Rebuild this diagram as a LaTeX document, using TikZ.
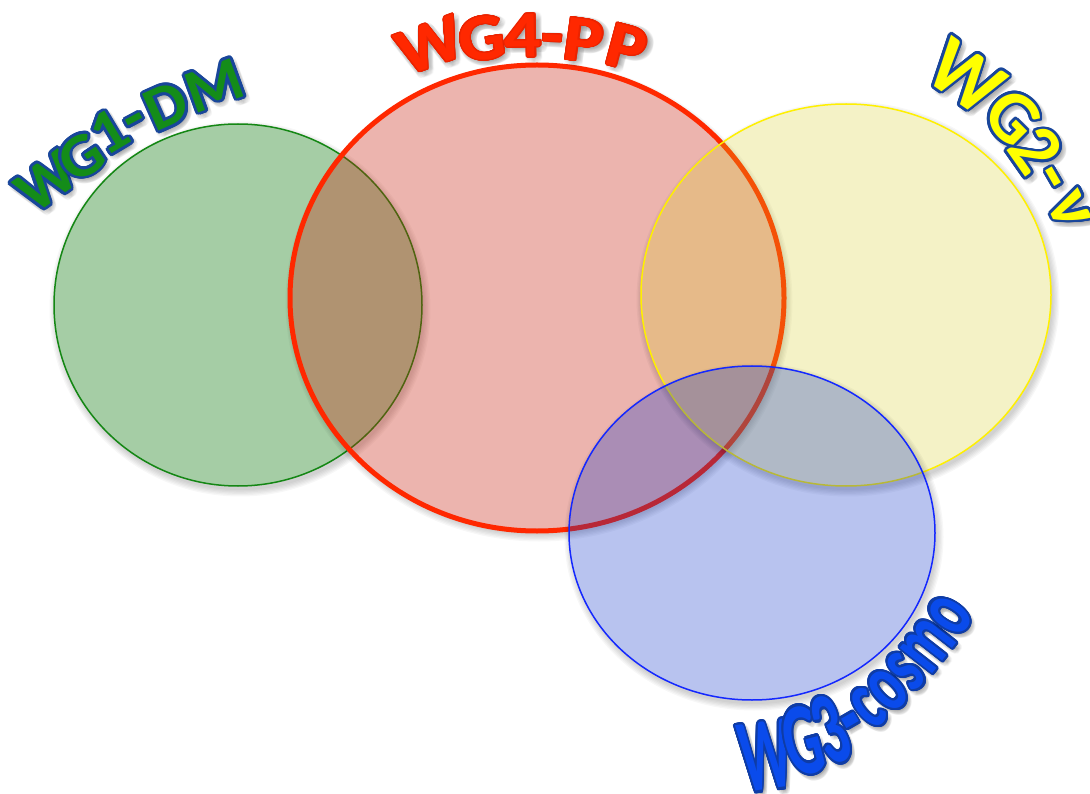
\documentclass[tikz,border=0pt]{standalone}
\usepackage{fontspec}
\setmainfont{Carlito}
\usepackage{contour}
\contournumber{24}
\contourlength{2.6pt}
\usetikzlibrary{calc}

% circle colours
\definecolor{gfill}{RGB}{30,130,30}
\definecolor{gline}{RGB}{20,135,20}
\definecolor{rfill}{RGB}{200,30,10}
\definecolor{rline}{RGB}{255,40,0}
\definecolor{yfill}{RGB}{215,205,30}
\definecolor{yline}{RGB}{255,240,0}
\definecolor{bfill}{RGB}{0,40,200}
\definecolor{bline}{RGB}{20,40,255}
% label colours
\definecolor{onetext}{RGB}{20,140,25}
\definecolor{navy}{RGB}{25,70,155}
\definecolor{fourtext}{RGB}{255,40,0}
\definecolor{fourline}{RGB}{235,35,0}
\definecolor{twotext}{RGB}{255,255,0}
\definecolor{threetext}{RGB}{10,75,235}
\definecolor{threeline}{RGB}{15,60,165}

\tikzset{
  glyph/.style={inner sep=0pt, outer sep=0pt, font=\bfseries\fontsize{62}{62}\selectfont},
  wgone/.style={glyph, text=onetext, xscale=1.05},
  wgfour/.style={glyph, text=fourtext, xscale=1.1, font=\bfseries\fontsize{66}{66}\selectfont},
  wgtwo/.style={glyph, text=twotext, font=\bfseries\fontsize{74}{74}\selectfont},
  wgtwobig/.style={wgtwo, font=\bfseries\fontsize{80}{80}\selectfont},
  wgthree/.style={glyph, text=threetext, xscale=0.56, font=\bfseries\fontsize{104}{104}\selectfont},
  wgthreelow/.style={glyph, text=threetext, xscale=0.66, font=\bfseries\fontsize{85}{85}\selectfont},
  setline/.style={line width=#1},
}

% one outlined, shadowed letter of a curved label
% #1 name, #2 x, #3 y, #4 angle, #5 style, #6 outline colour, #7 letter
\newcommand\wgchar[7]{%
  \node[rotate=#4, #5, text=black, opacity=0.025] (#1-sh) at ({#2+3},{#3+4})
    {\contourlength{4pt}\contour{black}{#7}};
  \node[rotate=#4, #5] (#1) at (#2,#3) {\contour{#6}{#7}};
}

% soft shadow ring outside an ellipse
\newcommand\softshadow[3]{%
  \begin{scope}[even odd rule]
    \clip (-20,-20) rectangle (1110,814) (#1) ellipse [x radius=#2, y radius=#3];
    \foreach \k in {0,...,5}
      \fill[black, opacity=0.03] ($(#1)+(2,4)$) ellipse [x radius={#2+\k*1.3}, y radius={#3+\k*1.3}];
  \end{scope}}

\begin{document}
\begin{tikzpicture}[x=1pt, y=-1pt]
  \useasboundingbox (0,0) rectangle (1090,794);
  \fill[white] (0,0) rectangle (1090,794);

  \coordinate (gc) at (238,305);
  \coordinate (rc) at (537,298);
  \coordinate (yc) at (846,295);
  \coordinate (bc) at (752,533);

  % working-group sets
  \softshadow{gc}{184}{181}
  \draw[setline=1.5, draw=gline, fill=gfill, fill opacity=0.4] (gc) ellipse [x radius=184, y radius=181];
  \softshadow{rc}{247}{233}
  \draw[setline=5, draw=rline, fill=rfill, fill opacity=0.33] (rc) ellipse [x radius=247, y radius=233];
  \softshadow{yc}{205}{191}
  \draw[setline=1.5, draw=yline, fill=yfill, fill opacity=0.25] (yc) ellipse [x radius=205, y radius=191];
  \softshadow{bc}{183}{167}
  \draw[setline=1.5, draw=bline, fill=bfill, fill opacity=0.28] (bc) ellipse [x radius=183, y radius=167];

  % WG1-DM
  \wgchar{a1}{47}{183}{36}{wgone}{navy}{W}
  \wgchar{a2}{82}{158}{34}{wgone}{navy}{G}
  \wgchar{a3}{110}{133}{31}{wgone}{navy}{1}
  \wgchar{a4}{138}{127}{28}{wgone}{navy}{-}
  \wgchar{a5}{167}{107}{24}{wgone}{navy}{D}
  \wgchar{a6}{215}{87}{20}{wgone}{navy}{M}

  % WG4-PP
  \begingroup\contourlength{1pt}
  \wgchar{d1}{430}{46}{20}{wgfour}{fourline}{W}
  \wgchar{d2}{482}{39}{9}{wgfour}{fourline}{G}
  \wgchar{d3}{523}{36}{1}{wgfour}{fourline}{4}
  \wgchar{d4}{552}{46}{-3}{wgfour}{fourline}{-}
  \wgchar{d5}{584}{41}{-8}{wgfour}{fourline}{P}
  \wgchar{d6}{627}{48}{-15}{wgfour}{fourline}{P}
  \endgroup

  % WG2-nu
  \wgchar{b1}{965}{78}{-35}{wgtwobig}{navy}{W}
  \wgchar{b2}{1012}{118}{-45}{wgtwo}{navy}{G}
  \wgchar{b3}{1035}{151}{-55}{wgtwo}{navy}{2}
  \wgchar{b4}{1045}{182}{-60}{wgtwo}{navy}{-}
  \wgchar{b5}{1068}{211}{-65}{wgtwo}{navy}{ν}

  % WG3-cosmo
  \wgchar{c1}{766}{757}{8}{wgthree}{threeline}{W}
  \wgchar{c2}{803}{742}{15}{wgthree}{threeline}{G}
  \wgchar{c3}{831}{731}{22}{wgthree}{threeline}{3}
  \wgchar{c4}{857}{732}{30}{wgthree}{threeline}{-}
  \wgchar{c5}{869}{709}{40}{wgthreelow}{threeline}{c}
  \wgchar{c6}{889}{691}{44}{wgthreelow}{threeline}{o}
  \wgchar{c7}{907}{672}{48}{wgthreelow}{threeline}{s}
  \wgchar{c8}{929}{646}{52}{wgthreelow}{threeline}{m}
  \wgchar{c9}{951}{616}{57}{wgthreelow}{threeline}{o}
\end{tikzpicture}
\end{document}
